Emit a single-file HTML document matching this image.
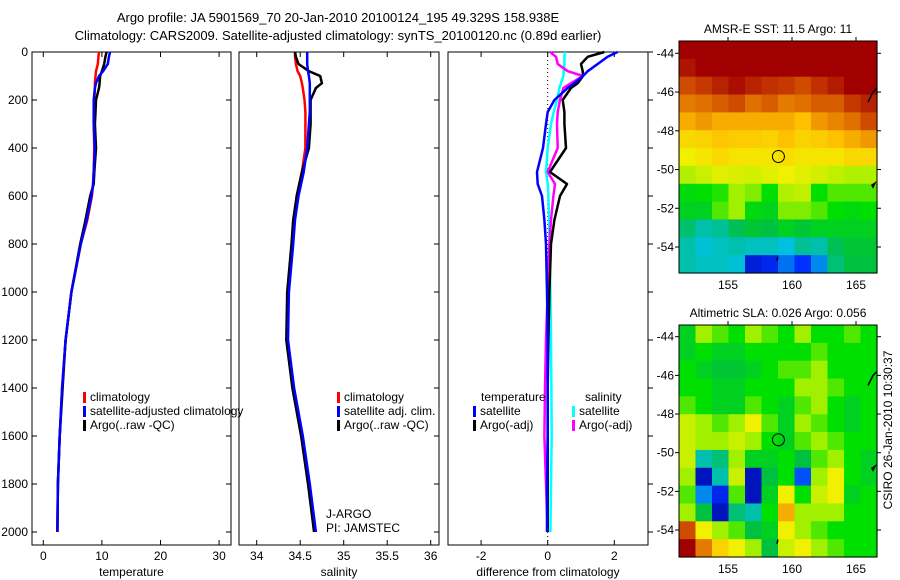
<!DOCTYPE html>
<html><head><meta charset="utf-8"><style>
body{margin:0;background:#fff;}
svg{display:block;font-family:"Liberation Sans",sans-serif;font-size:12px;}
</style></head><body>
<svg id="chart" width="900" height="580" xmlns="http://www.w3.org/2000/svg">
<text x="338" y="22" text-anchor="middle" font-size="13">Argo profile: JA 5901569_70 20-Jan-2010 20100124_195 49.329S 158.938E</text>
<text x="338" y="40" text-anchor="middle" font-size="13">Climatology: CARS2009. Satellite-adjusted climatology: synTS_20100120.nc (0.89d earlier)</text>
<g id="g"></g>
<text transform="translate(892,430) rotate(-90)" text-anchor="middle" font-size="12">CSIRO 26-Jan-2010 10:30:37</text>
</svg>
<script>
// ---- profile data ----
const depths = [0,20,50,80,100,130,150,200,250,300,400,500,550,600,700,800,1000,1200,1400,1600,1800,2000];
const tempClim = [9.5,9.4,9.3,9.0,8.9,8.8,8.8,8.7,8.6,8.6,8.7,8.6,8.5,8.3,7.5,6.4,4.8,3.8,3.2,2.8,2.5,2.4];
const tempSat  = [11.4,11.2,11.0,10.2,9.5,9.0,8.8,8.6,8.6,8.6,8.8,8.6,8.5,8.2,7.4,6.4,4.8,3.8,3.2,2.8,2.5,2.4];
const tempArgo = [10.8,10.6,10.4,10.0,9.7,9.6,9.5,9.0,8.9,8.8,9.0,8.7,8.6,8.0,7.2,6.3,4.8,3.8,3.3,2.8,2.5,2.4];
const salClim = [34.44,34.44,34.45,34.47,34.50,34.52,34.53,34.55,34.56,34.56,34.56,34.52,34.49,34.46,34.43,34.41,34.36,34.35,34.42,34.52,34.60,34.66];
const salSat  = [34.58,34.58,34.58,34.59,34.60,34.61,34.61,34.61,34.61,34.60,34.58,34.54,34.51,34.48,34.44,34.42,34.37,34.36,34.43,34.53,34.61,34.68];
const salArgo = [34.44,34.45,34.48,34.60,34.73,34.75,34.68,34.62,34.62,34.62,34.60,34.52,34.49,34.46,34.42,34.40,34.35,34.34,34.41,34.51,34.59,34.66];
const dTempSat  = [2.1,1.8,1.5,1.2,1.06,0.8,0.6,0.2,0.0,-0.05,-0.14,-0.32,-0.3,-0.17,-0.1,-0.05,-0.02,0,0,0,-0.02,-0.02];
const dTempArgo = [1.7,1.2,1.0,1.05,1.06,0.9,0.7,0.45,0.5,0.5,0.55,0.07,0.58,0.37,0.2,0.1,0.05,0.02,0,0,0,0];
const dSalSat   = [0.52,0.5,0.5,0.48,0.47,0.4,0.35,0.28,0.18,0.1,0,-0.05,0,0.02,0.04,0.05,0.08,0.1,0.11,0.12,0.1,0.08];
const dSalArgo  = [0.07,0.25,0.3,0.6,1.06,0.7,0.47,0.37,0.3,0.28,0.3,0,0.22,0.17,0.1,0.05,0,-0.05,-0.08,-0.1,-0.05,0];
const depthTicks = [0,200,400,600,800,1000,1200,1400,1600,1800,2000];
const tempTicks = [0,10,20,30];
const salTicks = [34,34.5,35,35.5,36];
const salTickLabels = ["34","34.5","35","35.5","36"];
const diffTicks = [-2,0,2];
// ---- map data (rows north->south, cols west->east) ----
const sstGrid = [
[1,1,1,1,1,1,1,1,1,1,1,1],
[0.97,1,1,1,1,1,1,1,1,1,1,1],
[0.9,0.92,0.95,0.98,0.95,0.93,0.92,0.9,0.93,0.96,1,1],
[0.85,0.86,0.88,0.9,0.86,0.88,0.85,0.86,0.88,0.88,0.92,0.95],
[0.8,0.82,0.8,0.8,0.8,0.8,0.8,0.78,0.82,0.84,0.86,0.9],
[0.74,0.75,0.77,0.76,0.76,0.75,0.78,0.75,0.76,0.78,0.8,0.82],
[0.7,0.72,0.74,0.72,0.72,0.72,0.73,0.72,0.72,0.72,0.74,0.74],
[0.62,0.65,0.68,0.67,0.66,0.68,0.7,0.68,0.66,0.64,0.62,0.62],
[0.48,0.5,0.52,0.6,0.58,0.5,0.62,0.64,0.5,0.55,0.55,0.55],
[0.45,0.45,0.55,0.6,0.48,0.46,0.58,0.58,0.55,0.5,0.48,0.5],
[0.36,0.3,0.32,0.38,0.42,0.4,0.45,0.42,0.45,0.45,0.45,0.45],
[0.3,0.26,0.28,0.3,0.28,0.28,0.25,0.32,0.3,0.38,0.42,0.42],
[0.3,0.28,0.28,0.26,0.08,0.1,0.18,0.12,0.2,0.35,0.4,0.4]];
const slaGrid = [
[0.45,0.6,0.55,0.5,0.6,0.55,0.5,0.6,0.5,0.5,0.55,0.5],
[0.45,0.5,0.45,0.45,0.5,0.5,0.5,0.5,0.55,0.5,0.5,0.5],
[0.5,0.45,0.42,0.42,0.45,0.5,0.55,0.55,0.6,0.5,0.5,0.5],
[0.5,0.5,0.45,0.45,0.5,0.5,0.5,0.6,0.6,0.55,0.5,0.5],
[0.55,0.5,0.45,0.45,0.55,0.5,0.45,0.55,0.6,0.5,0.45,0.5],
[0.65,0.6,0.55,0.6,0.7,0.55,0.45,0.6,0.55,0.5,0.45,0.5],
[0.65,0.6,0.6,0.65,0.6,0.5,0.45,0.55,0.6,0.55,0.5,0.5],
[0.65,0.3,0.35,0.6,0.45,0.45,0.5,0.4,0.55,0.6,0.5,0.45],
[0.6,0.05,0.3,0.65,0.05,0.4,0.5,0.15,0.6,0.7,0.5,0.45],
[0.55,0.2,0.1,0.55,0.05,0.45,0.7,0.5,0.65,0.7,0.45,0.5],
[0.6,0.4,0.05,0.35,0.3,0.5,0.8,0.6,0.6,0.6,0.5,0.5],
[0.9,0.7,0.6,0.55,0.4,0.45,0.7,0.6,0.55,0.5,0.5,0.5],
[1.0,0.85,0.75,0.7,0.6,0.4,0.65,0.7,0.6,0.55,0.5,0.5]];
const lonTicks = [155,160,165];
const latTicks = [-44,-46,-48,-50,-52,-54];
const argoLon = 158.94, argoLat = -49.33;

const NS="http://www.w3.org/2000/svg";
const G=document.getElementById('g');
function mk(tag,attrs,parent){const e=document.createElementNS(NS,tag);for(const k in attrs)e.setAttribute(k,attrs[k]);(parent||G).appendChild(e);return e;}
const yD = d => 52 + d*0.24;

function panel(name,x0,x1,xs,ticks,labels,xlabel,showY,rightTicks){
  const g=mk('g',{});
  
  
  const r=mk('rect',{x:x0,y:52,width:x1-x0,height:493,fill:'none',stroke:'#000','stroke-width':1},g);
  
  
  ticks.forEach((t,i)=>{
    const x=xs(t);
    mk('line',{x1:x,x2:x,y1:545,y2:540,stroke:'#000'},g);
    mk('line',{x1:x,x2:x,y1:52,y2:57,stroke:'#000'},g);
    const tx=mk('text',{x:x,y:560,'text-anchor':'middle'},g);
    tx.textContent=labels[i];
    
    
  });
  depthTicks.forEach(d=>{
    const y=yD(d);
    if(showY){mk('line',{x1:x0,x2:x0+5,y1:y,y2:y,stroke:'#000'},g);
      const tx=mk('text',{x:x0-4,y:y+4,'text-anchor':'end'},g);
      tx.textContent=d;
      
      }
    if(rightTicks){mk('line',{x1:x1,x2:x1+5,y1:y,y2:y,stroke:'#000'},g);}
    else mk('line',{x1:x1,x2:x1-5,y1:y,y2:y,stroke:'#000'},g);
  });
  const xl=mk('text',{x:(x0+x1)/2,y:576,'text-anchor':'middle'},g);
  xl.textContent=xlabel;
  
  
}
function line(xs,vals,color,name){
  const pts=vals.map((v,i)=>xs(v).toFixed(1)+','+yD(depths[i]).toFixed(1)).join(' ');
  const p=mk('polyline',{points:pts,fill:'none',stroke:color,'stroke-width':2.5,'stroke-linejoin':'round'});
  
  
}
function legend(x,y,items){
  items.forEach((it,i)=>{
    mk('rect',{x:x,y:y+i*14-9,width:3,height:11,fill:it[0]});
    const t=mk('text',{x:x+7,y:y+i*14});
    t.textContent=it[1];
    
    
  });
}
const xT=v=>43.3+v*5.86, xS=v=>256.7+(v-34)*87, xF=v=>547.7+v*33.3;
panel('temperature',32,231,xT,tempTicks,tempTicks.map(String),'temperature',true,false);
panel('salinity',239,439,xS,salTicks,salTickLabels,'salinity',false,false);
panel('difference',448,648,xF,diffTicks,diffTicks.map(String),'difference from climatology',false,true);
mk('line',{x1:xF(0),x2:xF(0),y1:52,y2:545,stroke:'#000','stroke-dasharray':'1,3'});
line(xT,tempClim,'#f00','temp-climatology-line');line(xT,tempArgo,'#000','temp-argo-line');line(xT,tempSat,'#00f','temp-satellite-line');
line(xS,salClim,'#f00','sal-climatology-line');line(xS,salArgo,'#000','sal-argo-line');line(xS,salSat,'#00f','sal-satellite-line');
line(xF,dSalSat,'#0ff','diff-sal-satellite-line');line(xF,dSalArgo,'#f0f','diff-sal-argo-line');
line(xF,dTempArgo,'#000','diff-temp-argo-line');line(xF,dTempSat,'#00f','diff-temp-satellite-line');
legend(83,401,[['#f00','climatology'],['#00f','satellite-adjusted climatology'],['#000','Argo(..raw -QC)']]);
legend(337,401,[['#f00','climatology'],['#00f','satellite adj. clim.'],['#000','Argo(..raw -QC)']]);
legend(473,415,[['#00f','satellite'],['#000','Argo(-adj)']]);
legend(572,415,[['#0ff','satellite'],['#f0f','Argo(-adj)']]);
[['temperature',481,401],['salinity',585,401]].forEach(a=>{const t=mk('text',{x:a[1],y:a[2]});t.textContent=a[0];
  
  });
[['J-ARGO',326,518],['PI: JAMSTEC',326,532]].forEach(a=>{const t=mk('text',{x:a[1],y:a[2]});t.textContent=a[0];
  
  });

// colormap
const stops=[[0,[0,0,139]],[0.12,[0,48,255]],[0.25,[0,192,224]],[0.4,[0,192,64]],[0.5,[0,224,0]],[0.6,[160,240,0]],[0.7,[240,240,0]],[0.78,[255,192,0]],[0.86,[224,112,0]],[0.93,[192,48,0]],[1,[160,0,0]]];
function cmap(v){for(let i=1;i<stops.length;i++){if(v<=stops[i][0]){const a=stops[i-1],b=stops[i],f=(v-a[0])/(b[0]-a[0]);return 'rgb('+a[1].map((c,k)=>Math.round(c+(b[1][k]-c)*f)).join(',')+')';}}return 'rgb(160,0,0)';}
function map(name,grid,top,title,lat44,lat54){
  const x0=679,x1=877,bot=top+232;
  const g=mk('g',{});
  
  
  const nr=grid.length,nc=grid[0].length,cw=(x1-x0)/nc,ch=(bot-top)/nr;
  grid.forEach((row,r)=>row.forEach((v,c)=>{
    const cell=mk('rect',{x:x0+c*cw,y:top+r*ch,width:cw+0.6,height:ch+0.6,fill:cmap(v)},g);
    
    
  }));
  const lx=l=>728+(l-155)*12.8, ly=l=>lat44+(l+44)*(lat54-lat44)/(-10);
  mk('rect',{x:x0,y:top,width:x1-x0,height:bot-top,fill:'none',stroke:'#000'},g);
  lonTicks.forEach(l=>{mk('line',{x1:lx(l),x2:lx(l),y1:top,y2:top-4,stroke:'#000'},g);
    const t=mk('text',{x:lx(l),y:bot+16,'text-anchor':'middle'},g);t.textContent=l;
    
    });
  latTicks.forEach(l=>{mk('line',{x1:x0-4,x2:x0,y1:ly(l),y2:ly(l),stroke:'#000'},g);mk('line',{x1:x1,x2:x1+4,y1:ly(l),y2:ly(l),stroke:'#000'},g);
    const t=mk('text',{x:x0-5,y:ly(l)+4,'text-anchor':'end'},g);t.textContent=l;
    
    });
  mk('path',{d:`M${x1} ${ly(-45.8)} l-4 4 l-3 6 l-2 4 M${x1-2} ${ly(-50.7)} l-3 2 l1 2 z M${lx(158.9)} ${ly(-54.5)} l-1 4`,stroke:'#000',fill:'none','stroke-width':1.5},g);
  const c=mk('circle',{cx:lx(argoLon),cy:ly(argoLat),r:6,fill:'none',stroke:'#000'},g);
  
  
  const tt=mk('text',{x:(x0+x1)/2,y:top-8,'text-anchor':'middle'},g);tt.textContent=title;
  
  
}
map('sst',sstGrid,41,'AMSR-E SST: 11.5 Argo: 11',53.3,247);
map('sla',slaGrid,325,'Altimetric SLA: 0.026 Argo: 0.056',336.7,530);
</script>
</body></html>
